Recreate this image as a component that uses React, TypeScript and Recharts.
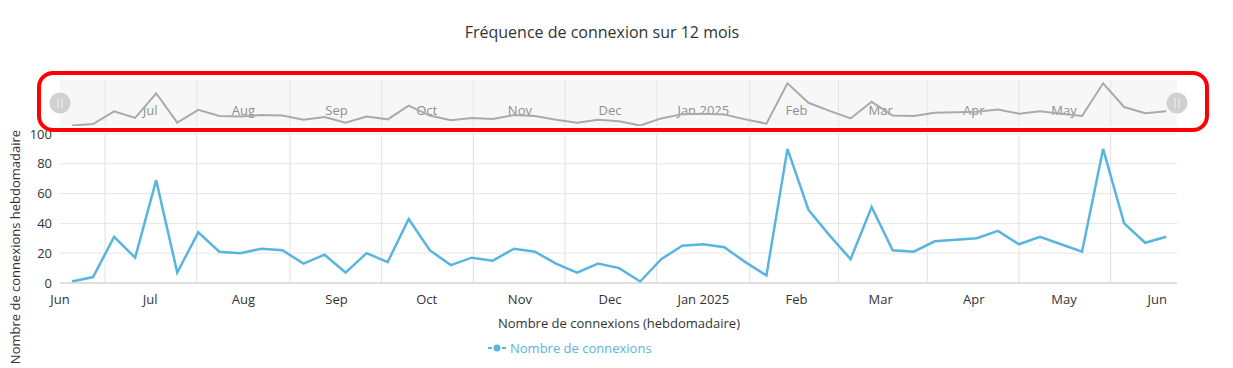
import React from "react";
import {
  LineChart,
  Line,
  XAxis,
  YAxis,
  CartesianGrid,
  ReferenceLine,
  ReferenceArea,
  ReferenceDot,
} from "recharts";

// ---------- DATA ----------
const weekDates = [
  "2024-06-05", "2024-06-12", "2024-06-19", "2024-06-26",
  "2024-07-03", "2024-07-10", "2024-07-17", "2024-07-24", "2024-07-31",
  "2024-08-07", "2024-08-14", "2024-08-21", "2024-08-28",
  "2024-09-04", "2024-09-11", "2024-09-18", "2024-09-25",
  "2024-10-02", "2024-10-09", "2024-10-16", "2024-10-23", "2024-10-30",
  "2024-11-06", "2024-11-13", "2024-11-20", "2024-11-27",
  "2024-12-04", "2024-12-11", "2024-12-18", "2024-12-25",
  "2025-01-01", "2025-01-08", "2025-01-15", "2025-01-22", "2025-01-29",
  "2025-02-05", "2025-02-12", "2025-02-19", "2025-02-26",
  "2025-03-05", "2025-03-12", "2025-03-19", "2025-03-26",
  "2025-04-02", "2025-04-09", "2025-04-16", "2025-04-23", "2025-04-30",
  "2025-05-07", "2025-05-14", "2025-05-21", "2025-05-28",
  "2025-06-04",
];

const connexions = [
  1, 4, 31, 17, 69, 7, 34, 21, 20, 23, 22, 13, 19, 7, 20, 14, 43,
  22, 12, 17, 15, 23, 21, 13, 7, 13, 10, 1, 16, 25, 26, 24, 14, 5,
  90, 49, 32, 16, 51, 22, 21, 28, 29, 30, 35, 26, 31, 26, 21, 90, 40, 27, 31,
];

const monthStarts = [
  "2024-06-01", "2024-07-01", "2024-08-01", "2024-09-01", "2024-10-01",
  "2024-11-01", "2024-12-01", "2025-01-01", "2025-02-01", "2025-03-01",
  "2025-04-01", "2025-05-01", "2025-06-01",
];
const monthLabels = [
  "Jun", "Jul", "Aug", "Sep", "Oct", "Nov", "Dec", "Jan 2025", "Feb", "Mar",
  "Apr", "May", "Jun",
];
const yTicks = [0, 20, 40, 60, 80, 100];

const AXIS_START = "2024-06-01";
const AXIS_END = "2025-06-07T14:00:00Z";

const TITLE = "Fréquence de connexion sur 12 mois";
const X_TITLE = "Nombre de connexions (hebdomadaire)";
const Y_TITLE = "Nombre de connexions hebdomadaire";
const SERIES_NAME = "Nombre de connexions";

// ---------- helpers ----------
const DAY = 86400000;
const t0 = Date.parse(AXIS_START);
const toDay = (s: string) => (Date.parse(s) - t0) / DAY;

const data = weekDates.map((d, i) => ({ day: toDay(d), value: connexions[i] }));
const tickDays = monthStarts.map(toDay);
const labelByDay: Record<string, string> = {};
tickDays.forEach((d, i) => (labelByDay[String(d)] = monthLabels[i]));
const gridDays = tickDays.slice(0, -1).map((d, i) => (d + tickDays[i + 1]) / 2);
const endDay = toDay(AXIS_END);
const navTicks = tickDays.slice(1, -1);

const NAV_MAX = 97;
const LINE_COLOR = "#5ab4e0";
const FONT = "'Open Sans', sans-serif";

const navLabel = (text: string) => (props: any) => {
  const vb = props.viewBox || {};
  return (
    <text
      x={vb.x}
      y={vb.y + vb.height - 11}
      textAnchor="middle"
      fontSize={13}
      fill="#8f8f8f"
      stroke="none"
      fontFamily={FONT}
    >
      {text}
    </text>
  );
};

const Handle = (props: any) => {
  const { cx, cy } = props;
  return (
    <g>
      <circle cx={cx} cy={cy} r={10.5} fill="#d0d0d0" />
      <line x1={cx - 2} x2={cx - 2} y1={cy - 5} y2={cy + 5} stroke="#ececec" strokeWidth={1.2} />
      <line x1={cx + 2} x2={cx + 2} y1={cy - 5} y2={cy + 5} stroke="#ececec" strokeWidth={1.2} />
    </g>
  );
};

export default function App() {
  return (
    <div
      style={{
        position: "absolute",
        left: 0,
        top: 0,
        width: 1233,
        height: 368,
        fontFamily: FONT,
        background: "#fff",
      }}
    >
      {/* main chart */}
      <div style={{ position: "absolute", left: 0, top: 0 }}>
        <LineChart width={1233} height={368} data={data} margin={{ top: 134, right: 56, bottom: 0, left: 0 }}>
          <CartesianGrid vertical={false} stroke="#e6e6e6" />
          {gridDays.map((d) => (
            <ReferenceLine key={"g" + d} x={d} stroke="#e0e0e0" />
          ))}
          <XAxis
            dataKey="day"
            type="number"
            domain={[0, endDay]}
            ticks={tickDays}
            interval={0}
            tickFormatter={(v: number) => labelByDay[String(v)]}
            height={85}
            axisLine={{ stroke: "#cccccc" }}
            tickLine={false}
            tickSize={0}
            tickMargin={12}
            tick={{ fontSize: 13, fill: "#333", fontFamily: FONT }}
          />
          <YAxis
            width={60}
            domain={[0, 100]}
            ticks={yTicks}
            axisLine={false}
            tickLine={false}
            tickSize={0}
            tickMargin={8}
            tick={{ fontSize: 13, fill: "#333", fontFamily: FONT }}
          />
          <Line
            type="linear"
            dataKey="value"
            stroke={LINE_COLOR}
            strokeWidth={2.5}
            dot={false}
            isAnimationActive={false}
          />
        </LineChart>
      </div>

      {/* navigator */}
      <div style={{ position: "absolute", left: 0, top: 0 }}>
        <LineChart width={1233} height={126} data={data} margin={{ top: 80, right: 56, bottom: 0, left: 60 }}>
          <ReferenceArea x1={0} x2={endDay} y1={0} y2={NAV_MAX} fill="#f7f7f7" fillOpacity={1} stroke="none" />
          {gridDays.map((d) => (
            <ReferenceLine key={"n" + d} x={d} stroke="#e4e4e4" />
          ))}
          {navTicks.map((d) => (
            <ReferenceLine
              key={"l" + d}
              x={d}
              stroke="none"
              label={navLabel(labelByDay[String(d)])}
            />
          ))}
          <XAxis dataKey="day" type="number" domain={[0, endDay]} hide />
          <YAxis hide domain={[0, NAV_MAX]} />
          <Line
            type="linear"
            dataKey="value"
            stroke="#aaaaaa"
            strokeWidth={2}
            dot={false}
            isAnimationActive={false}
          />
          <ReferenceDot x={0} y={NAV_MAX / 2} ifOverflow="visible" shape={<Handle />} />
          <ReferenceDot x={endDay} y={NAV_MAX / 2} ifOverflow="visible" shape={<Handle />} />
        </LineChart>
      </div>

      {/* texts */}
      <svg width={1233} height={368} style={{ position: "absolute", left: 0, top: 0, pointerEvents: "none" }}>
        <text x={602} y={38} textAnchor="middle" fontSize={16} fill="#333" fontFamily={FONT}>
          {TITLE}
        </text>
        <text x={619} y={328} textAnchor="middle" fontSize={13} fill="#333" fontFamily={FONT}>
          {X_TITLE}
        </text>
        <text
          x={0}
          y={0}
          transform="translate(20,247) rotate(-90)"
          textAnchor="middle"
          fontSize={13}
          fill="#333"
          fontFamily={FONT}
        >
          {Y_TITLE}
        </text>
        <g>
          <line x1={488} x2={492} y1={348} y2={348} stroke={LINE_COLOR} strokeWidth={2} />
          <line x1={502} x2={506} y1={348} y2={348} stroke={LINE_COLOR} strokeWidth={2} />
          <circle cx={497} cy={348} r={3.5} fill={LINE_COLOR} />
          <text x={510} y={353} fontSize={13} fill={LINE_COLOR} fontFamily={FONT}>
            {SERIES_NAME}
          </text>
        </g>
      </svg>

      {/* highlight box */}
      <div
        style={{
          position: "absolute",
          left: 37,
          top: 71,
          width: 1172,
          height: 61,
          boxSizing: "border-box",
          border: "4px solid #ff0000",
          borderRadius: 16,
          pointerEvents: "none",
        }}
      />
    </div>
  );
}
